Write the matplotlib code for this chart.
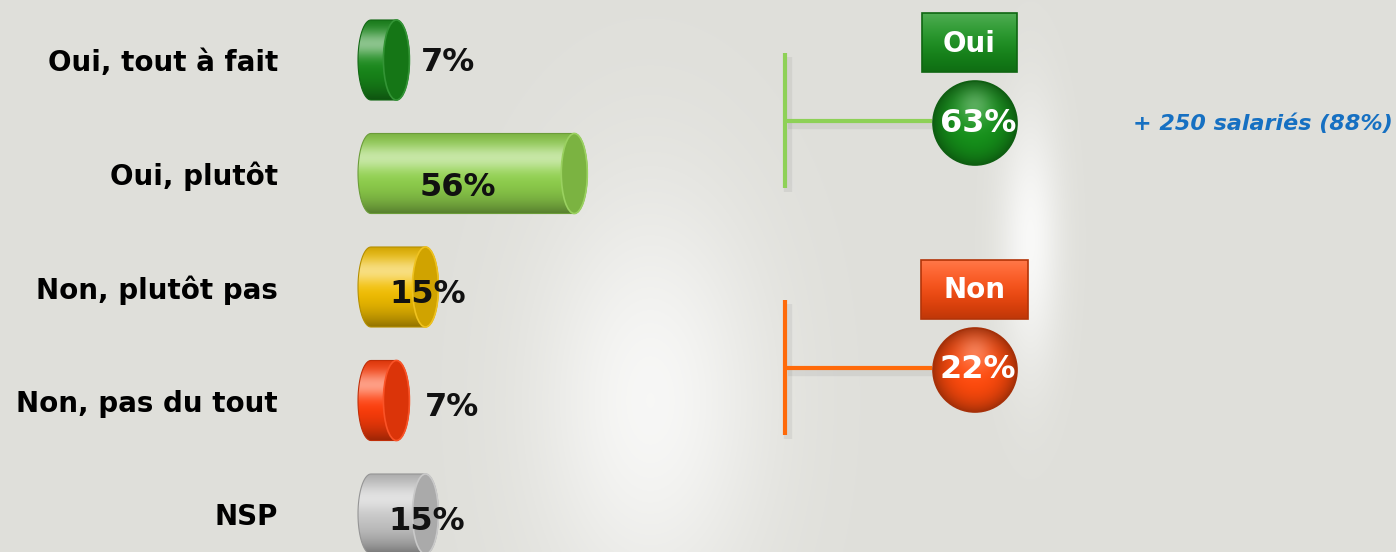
import numpy as np
import matplotlib.pyplot as plt
from matplotlib.patches import Ellipse, Circle, Rectangle, PathPatch
from matplotlib.path import Path
from matplotlib.colors import to_rgb

# ---------------------- data -------------------------- #
categories = ['Oui, tout à fait', 'Oui, plutôt', 'Non, plutôt pas', 'Non, pas du tout', 'NSP']
values = [7, 56, 15, 7, 15]
bar_colors = ['#18891a', '#8fd04c', '#f2be00', '#ff3d0a', '#c6c6c6']

groups = ['Oui', 'Non']
group_values = [63, 22]
group_colors = ['#15911a', '#ff4a0c']
line_colors = ['#8ed157', '#ff6a0a']
note = '+ 250 salariés (88%)'

# label placement (in % units / category units)
value_label_x = [21.2, 24.0, 15.7, 22.3, 15.4]
value_label_dy = [0.02, 0.12, 0.07, 0.06, 0.07]

W, H = 1396, 552
fig = plt.figure(figsize=(W / 100, H / 100), dpi=100)

# ---------------------- background -------------------------- #
bg = fig.add_axes([0, 0, 1, 1])
xx, yy = np.meshgrid(np.arange(W), np.arange(H))
glow = 0.75 * np.exp(-(((xx - 650) / 115) ** 2 + ((yy - 400) / 210) ** 2))
glow = np.maximum(glow, 0.8 * np.exp(-(((xx - 1030) / 30) ** 2 + ((yy - 240) / 130) ** 2)))
base = np.array([0.875, 0.875, 0.855])
img = base + (1 - base) * glow[..., None]
bg.imshow(img, extent=(0, W, H, 0), aspect='auto')
bg.set_xlim(0, W)
bg.set_ylim(H, 0)
bg.axis('off')


def shade_rows(color, n=120):
    c = np.array(to_rgb(color))
    t = np.linspace(0, 1, n)[:, None]
    light = 0.5 * np.exp(-((t - 0.3) / 0.17) ** 2)
    dark = 0.4 * (np.abs(t - 0.4) / 0.6) ** 2.5
    rgb = (c + (1 - c) * light) * (1 - dark)
    return np.clip(rgb, 0, 1)[:, None, :]


# ---------------------- bars -------------------------- #
px = 3.63          # pixels per percent
x0 = 371           # pixel where 0% sits
ax_left = 330      # pixel where the bar axes begins
step = 113.5       # pixels between bars
ax = fig.add_axes([ax_left / W, 0, (W - ax_left) / W, 1])
ax.patch.set_alpha(0)

a = 13 / px        # half width of the end caps
b = 0.705 / 2      # half height of a bar

for i, (v, col) in enumerate(zip(values, bar_colors)):
    c = np.array(to_rgb(col))
    th = np.linspace(np.pi / 2, 3 * np.pi / 2, 40)
    left = np.column_stack([a * np.cos(th), i + b * np.sin(th)])
    th2 = np.linspace(-np.pi / 2, np.pi / 2, 40)
    right = np.column_stack([v + a * np.cos(th2), i + b * np.sin(th2)])
    verts = np.vstack([left, right, left[:1]])
    outline = PathPatch(Path(verts, closed=True), facecolor='none',
                        edgecolor=c * 0.75, lw=0.8, zorder=3)
    ax.add_patch(outline)
    im = ax.imshow(shade_rows(col), extent=(-a, v + a, i + b, i - b),
                   aspect='auto', zorder=2, interpolation='bicubic')
    im.set_clip_path(outline)
    ax.add_patch(Ellipse((v, i), 2 * a, 2 * b, facecolor=c * 0.86,
                         edgecolor=np.clip(c * 0.86 + 0.12, 0, 1), lw=1.2, zorder=4))
    ax.text(value_label_x[i], i + value_label_dy[i], f'{v}%', ha='center', va='center',
            fontsize=23, fontweight='bold', color='#111111', zorder=5)

ax.set_xlim(-(x0 - ax_left) / px, (W - x0) / px)
ax.set_ylim((H - 60) / step, -60 / step)
ax.set_yticks(range(len(categories)))
ax.set_yticklabels(categories, fontsize=20, fontweight='bold')
ax.tick_params(axis='y', length=0, pad=(ax_left - 278) * 0.72)
ax.set_xticks([])
for s in ax.spines.values():
    s.set_visible(False)

# ---------------------- right panel -------------------------- #
rx = fig.add_axes([0, 0, 1, 1])
rx.patch.set_alpha(0)
rx.axis('off')

centers_y = [123, 370]
box_w = [95, 107]
box_cx = [969.5, 974.5]
cx, r = 975, 42
for g, gv, gc, lc, cy, bw, bcx in zip(groups, group_values, group_colors, line_colors,
                                      centers_y, box_w, box_cx):
    c = np.array(to_rgb(gc))
    # bracket lines with soft shadow
    rx.plot([788, 788], [cy - 66, cy + 69], color='#888888', alpha=0.15, lw=6, solid_capstyle='butt')
    rx.plot([788, 932], [cy + 2, cy + 2], color='#888888', alpha=0.15, lw=6, solid_capstyle='butt')
    rx.plot([785, 785], [cy - 70, cy + 65], color=lc, lw=3, solid_capstyle='butt')
    rx.plot([785, 932], [cy - 2, cy - 2], color=lc, lw=3, solid_capstyle='butt')

    # label box
    top = cy - 110
    bh = 59
    rect = Rectangle((bcx - bw / 2, top), bw, bh, facecolor='none',
                     edgecolor=c * 0.7, lw=1.2, zorder=3)
    rx.add_patch(rect)
    t = np.linspace(0, 1, 60)[:, None]
    grad = c + (1 - c) * 0.25 * (1 - t) ** 2
    grad = grad * (1 - 0.25 * t ** 2)
    gim = rx.imshow(np.clip(grad, 0, 1)[:, None, :], extent=(bcx - bw / 2, bcx + bw / 2, top + bh, top),
                    aspect='auto', zorder=2)
    gim.set_clip_path(rect)
    rx.text(bcx, top + bh / 2 + 1, g, ha='center', va='center', color='white',
            fontsize=20, fontweight='bold', zorder=4)

    # value circle
    circ = Circle((cx, cy), r, facecolor='none', edgecolor=c * 0.65, lw=1.2, zorder=3)
    rx.add_patch(circ)
    gx, gy = np.meshgrid(np.linspace(-1, 1, 120), np.linspace(-1, 1, 120))
    d = np.sqrt(gx ** 2 + (gy + 0.45) ** 2)
    rad = np.sqrt(gx ** 2 + gy ** 2)
    cimg = c[None, None, :] + (1 - c)[None, None, :] * (0.3 * np.exp(-(d / 0.45) ** 2))[..., None]
    cimg = cimg * (1 - 0.35 * np.clip(rad, 0, 1) ** 3)[..., None]
    cim = rx.imshow(np.clip(cimg, 0, 1), extent=(cx - r, cx + r, cy + r, cy - r),
                    aspect='auto', zorder=2, interpolation='bicubic')
    cim.set_clip_path(circ)
    rx.text(cx + 3, cy, f'{gv}%', ha='center', va='center', color='white',
            fontsize=23, fontweight='bold', zorder=4)

rx.text(1133, 124, note, ha='left', va='center', color='#1670c2',
        fontsize=16, fontweight='bold', style='italic')
rx.set_xlim(0, W)
rx.set_ylim(H, 0)

plt.savefig('out.png', dpi=100)
